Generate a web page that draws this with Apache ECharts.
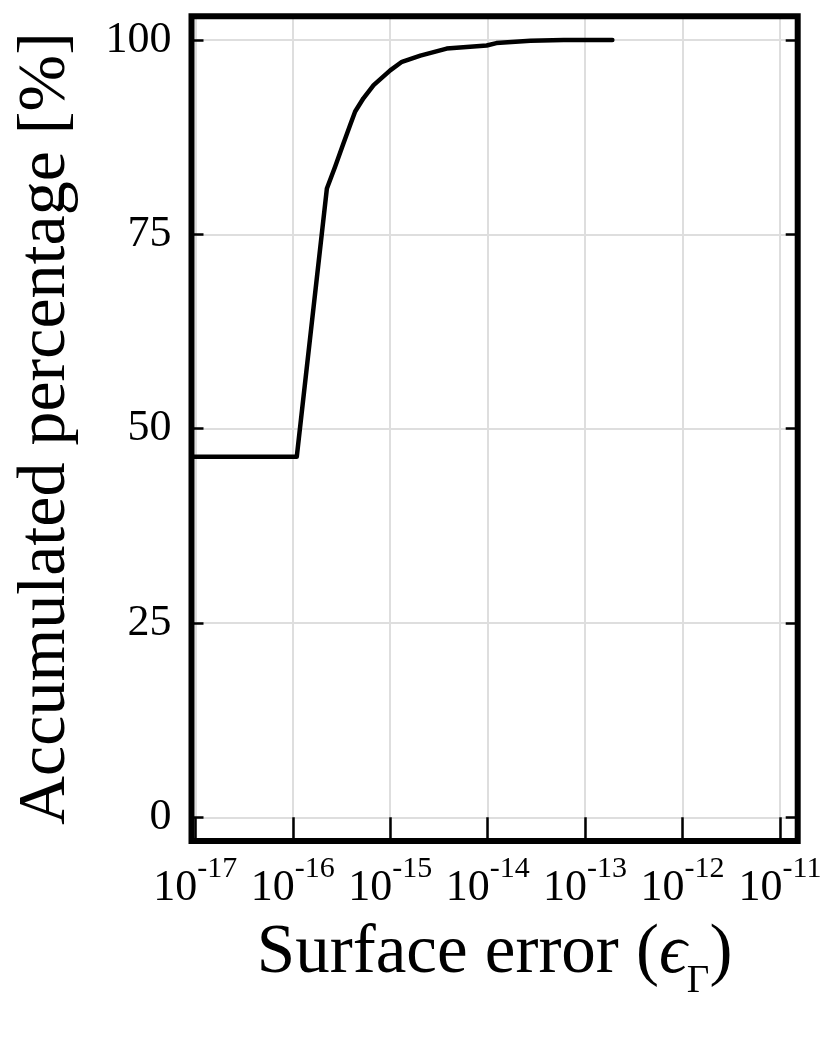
<!DOCTYPE html>
<html><head><meta charset="utf-8">
<script src="https://cdn.jsdelivr.net/npm/echarts@6/dist/echarts.min.js"></script>
<style>html,body{margin:0;padding:0;background:#fff}#c{width:830px;height:1038px}</style>
</head><body><div id="c"></div>
<script>
// Surface error values (x) and accumulated percentage (y)
const surfaceError = [9.1e-18, 1.10e-16, 2.24e-16, 2.72e-16, 3.31e-16, 3.89e-16, 4.37e-16, 5.31e-16, 6.76e-16, 1.0e-15, 1.32e-15, 2.04e-15, 3.80e-15, 9.77e-15, 1.23e-14, 2.75e-14, 6.03e-14, 1.905e-13];
const accumulatedPct = [46.4, 46.4, 80.9, 83.7, 86.7, 89.1, 90.8, 92.5, 94.2, 96.1, 97.2, 98.0, 98.9, 99.3, 99.6, 99.9, 100, 100];
const xTickValues = [1e-17, 1e-16, 1e-15, 1e-14, 1e-13, 1e-12, 1e-11];
const yTickValues = [0, 25, 50, 75, 100];
const xMin = 9.14e-18, xMax = 1.52e-11, yMin = -3.05, yMax = 103.05;

const FONT = '"Liberation Serif", "DejaVu Serif", serif';
const chart = echarts.init(document.getElementById('c'), null, {renderer: 'canvas'});
const seriesData = surfaceError.map((x, i) => [x, accumulatedPct[i]]);

const tickStyle = {show: true, inside: true, length: 12, lineStyle: {color: '#000', width: 2.5}};
const gridLine = {show: true, lineStyle: {color: '#dedede', width: 2}};

chart.setOption({
  animation: false,
  backgroundColor: '#fff',
  grid: {left: 191.5, right: 32.3, top: 16.3, bottom: 197, show: true, z: 1,
         borderColor: '#000', borderWidth: 6, backgroundColor: 'transparent', containLabel: false},
  xAxis: [{
    type: 'log', logBase: 10, min: xMin, max: xMax, position: 'bottom', offset: -13,
    axisLine: {show: false},
    axisTick: {show: true, inside: false, length: 24, customValues: xTickValues, lineStyle: {color: '#000', width: 2.5}},
    minorTick: {show: false}, minorSplitLine: {show: false},
    splitLine: gridLine,
    axisLabel: {
      customValues: xTickValues, margin: 26.5, color: '#000', fontFamily: FONT,
      formatter: v => '{b|10}{s|' + Math.round(Math.log10(v)) + '}',
      rich: {
        b: {fontSize: 44, lineHeight: 56, verticalAlign: 'bottom', fontFamily: FONT, color: '#000'},
        s: {fontSize: 30, lineHeight: 30, verticalAlign: 'top', fontFamily: FONT, color: '#000'}
      }
    },
    name: '{t|Surface error (}{e|ϵ}{g|Γ}{t|)}', nameLocation: 'middle', nameGap: 91,
    nameTextStyle: {
      fontFamily: FONT, color: '#000', fontSize: 69,
      rich: {
        t: {fontSize: 69, lineHeight: 82, fontFamily: FONT, color: '#000', verticalAlign: 'top'},
        e: {fontSize: 69, lineHeight: 82, fontFamily: FONT, fontStyle: 'italic', color: '#000', verticalAlign: 'top'},
        g: {fontSize: 39, lineHeight: 45, fontFamily: FONT, color: '#000', verticalAlign: 'bottom'}
      }
    }
  }, {
    type: 'log', logBase: 10, min: xMin, max: xMax, position: 'top',
    axisLine: {show: false},
    axisTick: Object.assign({customValues: xTickValues}, tickStyle),
    axisLabel: {show: false}, splitLine: {show: false}, minorTick: {show: false}
  }],
  yAxis: [{
    type: 'value', min: yMin, max: yMax, position: 'left',
    axisLine: {show: false},
    axisTick: Object.assign({customValues: yTickValues}, tickStyle),
    splitLine: gridLine,
    axisLabel: {customValues: yTickValues, margin: 20, fontSize: 44, fontFamily: FONT, color: '#000'},
    name: 'Accumulated percentage [%]', nameLocation: 'middle', nameRotate: 90, nameGap: 111,
    nameTextStyle: {fontFamily: FONT, fontSize: 68, color: '#000'}
  }, {
    type: 'value', min: yMin, max: yMax, position: 'right',
    axisLine: {show: false},
    axisTick: Object.assign({customValues: yTickValues}, tickStyle),
    axisLabel: {show: false}, splitLine: {show: false}
  }],
  series: [{
    type: 'line', xAxisIndex: 0, yAxisIndex: 0, data: seriesData,
    showSymbol: false, symbol: 'none', clip: true, z: 3,
    lineStyle: {color: '#000', width: 4.5, join: 'round', cap: 'round'}
  }]
});
</script></body></html>
